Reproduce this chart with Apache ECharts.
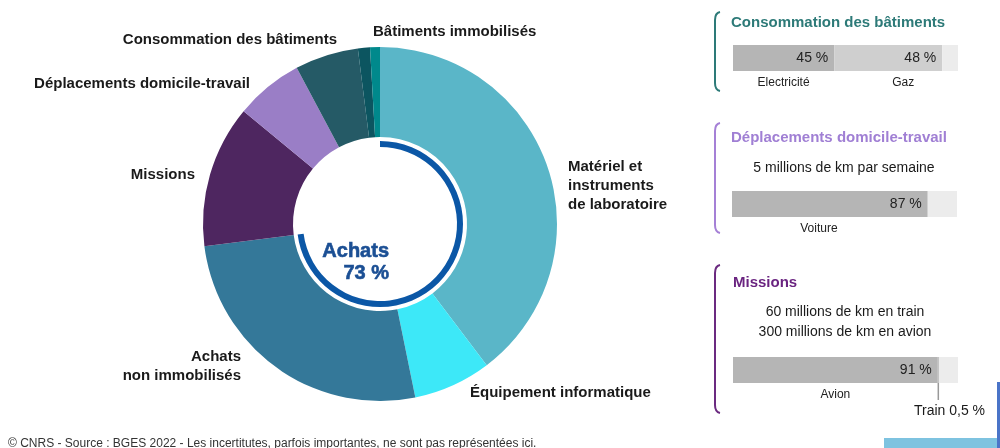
<!DOCTYPE html>
<html>
<head>
<meta charset="utf-8">
<script src="https://cdn.jsdelivr.net/npm/echarts@6/dist/echarts.min.js"></script>
<style>
  html, body { margin: 0; padding: 0; background: #fff; }
  #chart { width: 1000px; height: 448px; }
</style>
</head>
<body>
<div id="chart"></div>
<script>
// BGES 2022 : répartition des émissions
const categories = ['Matériel et\ninstruments\nde laboratoire', 'Équipement informatique', 'Achats\nnon immobilisés',
  'Missions', 'Déplacements domicile-travail', 'Consommation des bâtiments', '', 'Bâtiments immobilisés']
const shares = [39.7, 7.1, 26.2, 13, 6.2, 5.8, 1.1, 0.9]
const achatsShare = 73

const consoNames = ['Electricité', 'Gaz', '']
const consoValues = [45, 48, 7]
const domicileNames = ['Voiture', '']
const domicileValues = [87, 13]
const missionNames = ['Avion', 'Train', '']
const missionValues = [91, 0.5, 8.5]

// couleurs + placement des étiquettes (hors données)
const sliceColors = ['#5ab6c8', '#3de8f8', '#347899', '#4e2660', '#9a7ec6', '#255a66', '#0c5560', '#00898c']
const labelSpots = [[568, 186, 'left'], [470, 393, 'left'], [241, 366, 'right'], [195, 175, 'right'],
  [250, 84, 'right'], [337, 40, 'right'], null, [373, 32, 'left']]
const FONT = '"Liberation Sans", Arial, sans-serif'

const chart = echarts.init(document.getElementById('chart'))

function barPanel(idx, names, values, colors, shifts) {
  let out = []
  values.forEach((v, j) => {
    out.push({
      type: 'bar', stack: 's' + idx, xAxisIndex: idx, yAxisIndex: idx,
      barWidth: '100%', barGap: '-100%', silent: true,
      data: [v],
      itemStyle: { color: colors[j] },
      label: {
        show: names[j] !== '' && names[j] !== 'Train',
        position: 'insideRight', distance: 6,
        formatter: p => p.value + ' %',
        fontFamily: FONT, fontSize: 14, color: '#222'
      }
    })
  })
  values.forEach((v, j) => {
    out.push({
      type: 'bar', stack: 'n' + idx, xAxisIndex: idx, yAxisIndex: idx,
      barWidth: '100%', barGap: '-100%', silent: true,
      data: [v],
      itemStyle: { color: 'transparent' },
      label: {
        show: names[j] !== '' && names[j] !== 'Train',
        position: 'bottom', distance: 6,
        offset: [shifts[j] || 0, 0],
        formatter: names[j],
        fontFamily: FONT, fontSize: 12, color: '#222'
      }
    })
  })
  return out
}

let option = {
  animation: false,
  grid: [
    { left: 733, top: 45, width: 225, height: 26 },
    { left: 732, top: 191, width: 225, height: 26 },
    { left: 733, top: 357, width: 225, height: 26 }
  ],
  xAxis: [0, 1, 2].map(i => ({ type: 'value', gridIndex: i, min: 0, max: 100, show: false })),
  yAxis: [0, 1, 2].map(i => ({ type: 'category', gridIndex: i, data: [''], show: false })),
  series: [
    {
      type: 'pie',
      center: [380, 224],
      radius: [87, 177],
      startAngle: 90,
      clockwise: true,
      avoidLabelOverlap: false,
      silent: true,
      data: categories.map((c, i) => ({ name: c, value: shares[i], itemStyle: { color: sliceColors[i] } })),
      label: {
        show: true, position: 'outside',
        formatter: '{b}',
        fontFamily: FONT, fontSize: 15, fontWeight: 'bold', color: '#1a1a1a', lineHeight: 19
      },
      labelLine: { show: false },
      labelLayout: function (p) {
        let s = labelSpots[p.dataIndex]
        if (!s) return {}
        return { x: s[0], y: s[1], align: s[2], verticalAlign: 'middle' }
      }
    },
    {
      // arc "Achats"
      type: 'pie',
      center: [380, 224],
      radius: [77, 83],
      startAngle: 90,
      clockwise: true,
      silent: true,
      label: { show: false },
      labelLine: { show: false },
      data: [
        { value: achatsShare, itemStyle: { color: '#0b57a6' } },
        { value: 100 - achatsShare, itemStyle: { color: 'transparent' } }
      ]
    },
    ...barPanel(0, consoNames, consoValues, ['#b5b5b5', '#cfcfcf', '#ececec'], [0, 15, 0]),
    ...barPanel(1, domicileNames, domicileValues, ['#b5b5b5', '#ececec'], [-11, 0]),
    ...barPanel(2, missionNames, missionValues, ['#b5b5b5', '#b5b5b5', '#ececec'], [0, 0, 0])
  ]
}

chart.setOption(option)

// repère "Train" placé via l'axe
const trainX = chart.convertToPixel({ xAxisIndex: 2 }, missionValues[0] + missionValues[1] / 2)

function txt(x, y, text, size, color, bold, align) {
  return {
    type: 'text', silent: true,
    style: {
      x: x, y: y, text: text, fill: color,
      font: (bold ? 'bold ' : '') + size + 'px ' + FONT,
      align: align || 'left', verticalAlign: 'middle'
    }
  }
}
// accolade : deux petites courbes + un trait vertical
function bracket(x, y1, y2, color) {
  let st = { stroke: color, lineWidth: 2, fill: null }
  return [
    { type: 'bezierCurve', silent: true, shape: { x1: x + 5, y1: y1, x2: x, y2: y1 + 8, cpx1: x, cpy1: y1 + 1 }, style: st },
    { type: 'line', silent: true, shape: { x1: x, y1: y1 + 8, x2: x, y2: y2 - 8 }, style: st },
    { type: 'bezierCurve', silent: true, shape: { x1: x, y1: y2 - 8, x2: x + 5, y2: y2, cpx1: x, cpy1: y2 - 1 }, style: st }
  ]
}

let centerText = (y, t) => {
  let g = txt(389, y, t, 20, '#1b4f94', true, 'right')
  g.style.stroke = '#1b4f94'
  g.style.lineWidth = 0.6
  g.style.shadowColor = 'rgba(0,0,0,0.35)'
  g.style.shadowBlur = 2
  return g
}

chart.setOption({
  graphic: [
    centerText(251, 'Achats'),
    centerText(273, achatsShare + ' %'),
    ...bracket(715, 12, 91, '#2d7a78'),
    ...bracket(715, 123, 233, '#a580d6'),
    ...bracket(715, 265, 413, '#6b2a80'),
    txt(731, 23, 'Consommation des bâtiments', 15, '#2d7a78', true),
    txt(731, 138, 'Déplacements domicile-travail', 15, '#a07fd4', true),
    txt(844, 168, '5 millions de km par semaine', 14, '#1a1a1a', false, 'center'),
    txt(733, 283, 'Missions', 15, '#6a2480', true),
    txt(845, 312, '60 millions de km en train', 14, '#1a1a1a', false, 'center'),
    txt(845, 332, '300 millions de km en avion', 14, '#1a1a1a', false, 'center'),
    {
      type: 'line', silent: true,
      shape: { x1: trainX, y1: 383, x2: trainX, y2: 400 },
      style: { stroke: '#999', lineWidth: 1.5 }
    },
    txt(985, 411, 'Train ' + String(missionValues[1]).replace('.', ',') + ' %', 14, '#1a1a1a', false, 'right'),
    txt(8, 444, '© CNRS - Source : BGES 2022 - Les incertitutes, parfois importantes, ne sont pas représentées ici.', 12, '#333'),
    { type: 'rect', silent: true, shape: { x: 884, y: 438, width: 114, height: 10 }, style: { fill: '#7ec3e0' } },
    { type: 'rect', silent: true, shape: { x: 997, y: 382, width: 3, height: 66 }, style: { fill: '#4a74c8' } }
  ]
})
</script>
</body>
</html>
